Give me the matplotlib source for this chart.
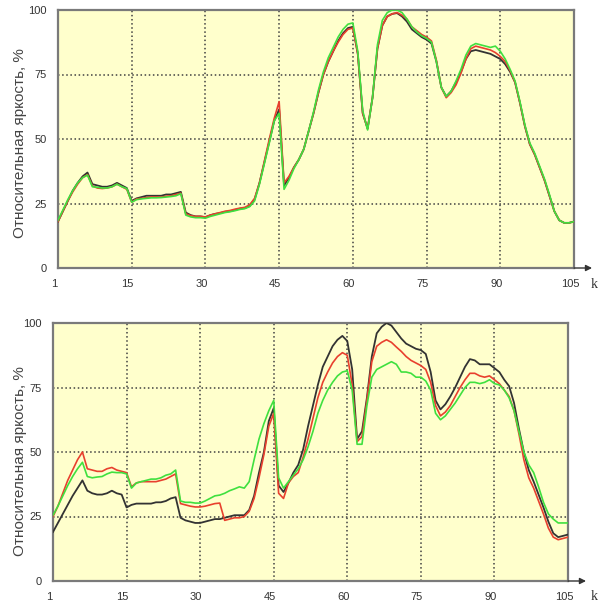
import numpy as np
import matplotlib
matplotlib.use("Agg")
import matplotlib.pyplot as plt
import matplotlib.transforms as mtransforms

# ---------------- data ----------------
x_ticks = [0, 15, 30, 45, 60, 75, 90, 105]
x_tick_labels = ["1", "15", "30", "45", "60", "75", "90", "105"]
y_ticks = [0, 25, 50, 75, 100]
y_label = "Относительная яркость, %"
x_axis_name = "k"

top_black = [18, 22, 26, 30, 33, 35.5, 37, 32.5, 32, 31.5,
             31.5, 32, 33, 32, 31, 26, 27, 27.5, 28, 28,
             28, 28, 28.5, 28.5, 29, 29.5, 21.5, 20.5, 20, 20,
             19.7, 20.5, 21, 21.3, 21.8, 22, 22.5, 23, 23.2, 24,
             26.5, 33, 41, 49, 57, 61.5, 32, 35, 39, 42,
             46, 53, 60, 68, 75, 80, 84, 88, 91, 93,
             93.5, 83, 60, 54, 66, 85, 94, 97.5, 98.5, 98.8,
             97.5, 95.5, 92.5, 91, 89.5, 88.5, 87, 80, 70, 66.5,
             68.5, 72, 76, 81, 84, 84.5, 84, 83.5, 83, 82,
             81, 79, 76, 72, 64, 55, 48, 44, 39, 34,
             28, 22, 18.5, 17.5, 17.5, 18]
top_red = [18, 22, 26, 29.5, 32.5, 35, 36.2, 31.8, 31, 30.8,
           31, 31.5, 32.5, 31.5, 30.5, 25.5, 26.8, 27, 27.3, 27.5,
           27.5, 27.5, 27.8, 28, 28.5, 29, 21, 20.3, 20, 20,
           19.8, 20.5, 21, 21.5, 22, 22.3, 22.8, 23.2, 23.5, 24.5,
           27, 33, 41.5, 50, 58, 64.5, 33, 35.5, 39, 42,
           46, 53, 60, 68, 75, 80, 84, 87.5, 90.5, 92.5,
           93, 83, 60, 54, 66, 85, 94, 97.5, 98.5, 99,
           98, 96.5, 93.5, 92, 90.5, 89.5, 88, 80.5, 70, 66,
           68, 71, 75.5, 81, 85, 86, 85.5, 85, 84.5, 83.5,
           82, 80, 76.5, 72, 64, 55, 48, 44, 39, 34,
           28, 22, 18.5, 17.5, 17.5, 18]
top_green = [18.5, 22.5, 26.5, 30, 33, 35, 36, 31.5, 31.3, 31,
             31, 31.5, 32.5, 31.5, 30.8, 25.5, 26.5, 26.8, 27, 27.2,
             27.2, 27.3, 27.5, 27.7, 28, 28.8, 20.5, 19.8, 19.5, 19.5,
             19.3, 20, 20.5, 21, 21.5, 21.8, 22.2, 22.7, 23, 23.8,
             26, 32.5, 40.5, 48.5, 57, 60, 30.5, 34, 38.5, 42,
             46, 53, 60.5, 69, 76, 81.5, 85.5, 89.5, 92.5, 94.5,
             95, 84, 61, 53.5, 66, 86.5, 96, 99, 100, 100,
             99, 96.5, 93.5, 91.5, 90, 89, 87.5, 80, 70, 66.5,
             68.5, 72.5, 77, 82.5, 86, 87, 86.5, 86, 85.5, 86,
             84, 81, 77, 72.5, 64.5, 55.5, 48.5, 44.5, 39.5, 34.5,
             28.5, 22, 18.5, 17.5, 17.5, 18]

bot_black = [19, 22.5, 26, 29.5, 33, 36, 39, 35, 34, 33.5,
             33.5, 34, 35, 34, 33.5, 28.5, 29.5, 30, 30, 30,
             30, 30.5, 30.5, 31, 32, 32.5, 24.5, 23.5, 23, 22.5,
             22.5, 23, 23.5, 24, 24, 24.5, 25, 25.5, 25.5, 25.5,
             27.5, 33, 42, 50, 62, 67, 37, 34.5, 38, 42,
             45, 51, 60, 68, 76, 83, 87, 91, 93.5, 95,
             93, 82, 55, 58, 71, 87, 96, 98.5, 100, 99,
             96.5, 94, 92, 91, 90, 89.5, 88, 81, 70, 66.5,
             68.5, 71.5, 75, 79, 83, 86, 85.5, 84, 84, 84,
             82.5, 81, 78, 75.5, 69, 59, 50, 43, 38.5, 33.5,
             28.5, 23, 18.5, 17, 17.5, 18]
bot_red = [25, 29, 34, 39, 43, 47, 50, 43.5, 43, 42.5,
           42.5, 43.5, 44, 43, 42.5, 42, 36.5, 38, 38.5, 38.5,
           38.5, 38.5, 39, 39.5, 40.5, 41.5, 30, 29.5, 29, 28.7,
           28.7, 29, 29.5, 30, 30.2, 23.5, 24, 24.5, 24.5, 25,
           27, 32, 40, 49, 60, 65, 34, 32, 38, 40.5,
           42, 48, 55, 63, 71, 77, 81, 84.5, 87, 88.5,
           87.5, 76, 54, 56, 70, 85, 91, 92.5, 93.5, 92.5,
           90.7, 89, 87, 85.5, 84.5, 83.5, 82, 77, 68, 64,
           65.5, 68, 71.5, 75, 78, 80.5, 80.5, 79.5, 79, 79.5,
           78, 76.5, 74, 71.5, 66, 57, 47, 40, 36, 31,
           26, 20.5, 17, 16, 16.5, 17]
bot_green = [25.5, 29, 33, 37, 40.5, 43.5, 46, 40.5, 40, 40.3,
             40.5, 41.5, 42.2, 42, 42, 41.5, 36, 38, 38.5, 39,
             39.5, 39.5, 40, 41, 41.5, 43, 31, 30.5, 30.5, 30.2,
             30.2, 31, 32, 33, 33.3, 34, 35, 35.7, 36.5, 36,
             38.5, 47, 55, 61, 66, 70, 40, 36, 38.5, 41,
             43.5, 47, 52, 58, 65, 70, 74, 77, 79.5, 81,
             81.5, 74, 53, 53, 68, 79, 82, 83, 84, 85,
             84, 81, 81, 80.5, 79, 79, 77.5, 74, 65, 62.5,
             64, 66.5, 69, 72, 75, 77, 77, 76.5, 77, 78,
             76.5, 76, 74, 71, 66, 58, 50, 45, 42, 36.5,
             30.5, 26, 24, 22.5, 22.5, 22.5]

# ---------------- style ----------------
BG = "#FFFFCC"
C_BLACK = "#333333"
C_RED = "#E8402E"
C_GREEN = "#3FE03F"
FRAME = "#7a7a7a"
TXT = "#333333"
FONT = ["Liberation Sans", "DejaVu Sans"]

W, H = 600, 603
fig = plt.figure(figsize=(W / 100, H / 100), dpi=100)
fig.patch.set_facecolor("white")


def px_rect(left, right, top, bottom):
    return [left / W, 1 - bottom / H, (right - left) / W, (bottom - top) / H]


def make_panel(rect, bottom_px, black, red, green, label_center_y):
    ax = fig.add_axes(rect)
    ax.set_facecolor(BG)
    xs = np.arange(len(black))
    ax.plot(xs, black, color=C_BLACK, lw=1.3, zorder=3, solid_joinstyle="round")
    ax.plot(xs, red, color=C_RED, lw=1.2, zorder=4, solid_joinstyle="round")
    ax.plot(xs, green, color=C_GREEN, lw=1.2, zorder=5, solid_joinstyle="round")
    ax.set_xlim(0, 105)
    ax.set_ylim(0, 100)
    ax.set_xticks(x_ticks)
    ax.set_xticklabels(x_tick_labels)
    ax.set_yticks(y_ticks)
    ax.tick_params(length=0, pad=8, labelsize=8, labelcolor=TXT)
    for lab in ax.get_xticklabels() + ax.get_yticklabels():
        lab.set_fontfamily(FONT)
    off = mtransforms.ScaledTranslation(-4 / 100, 0, fig.dpi_scale_trans)
    for lab in ax.get_xticklabels():
        lab.set_transform(lab.get_transform() + off)
    ax.grid(True, color="#404040", lw=1.1, linestyle=(0, (1.0, 1.7)), zorder=1)
    ax.set_axisbelow(True)
    for s in ax.spines.values():
        s.set_color(FRAME)
        s.set_linewidth(1.6)
    # axis arrow
    ax.annotate("", xy=(1.035, 0), xycoords="axes fraction",
                xytext=(1.0, 0), textcoords="axes fraction",
                arrowprops=dict(arrowstyle="-|>", color="#333333", lw=1.0,
                                mutation_scale=9, shrinkA=0, shrinkB=0))
    fig.text(594 / W, 1 - (bottom_px + 16) / H, x_axis_name,
             fontsize=10, color=TXT, family=["Liberation Serif", "DejaVu Serif"],
             ha="center", va="center")
    fig.text(20 / W, 1 - label_center_y / H, y_label, rotation=90,
             ha="center", va="center", fontsize=11, color="#444444",
             family=FONT)
    return ax


make_panel(px_rect(58, 574, 10, 268), 268, top_black, top_red, top_green, 143)
make_panel(px_rect(53, 568, 323, 581), 581, bot_black, bot_red, bot_green, 461)

fig.savefig("out.png", dpi=100, facecolor="white")
